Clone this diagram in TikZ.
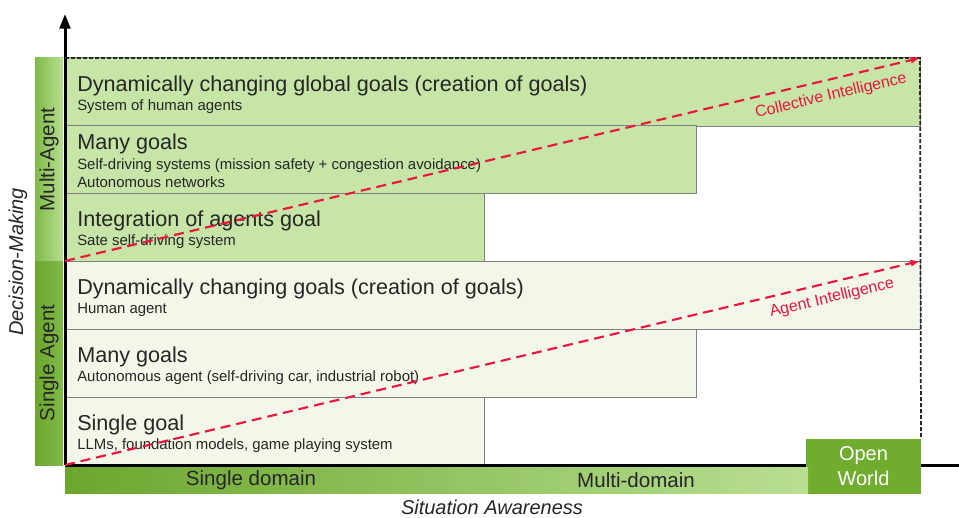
\documentclass[tikz,border=0pt]{standalone}
\usepackage{fontspec}
\setmainfont{Liberation Sans}
\usetikzlibrary{arrows.meta,positioning}

\definecolor{rowdark}{RGB}{198,229,167}
\definecolor{rowlight}{RGB}{242,247,234}
\definecolor{rowline}{RGB}{128,128,128}
\definecolor{bardark}{RGB}{108,166,46}
\definecolor{barmid}{RGB}{128,186,72}
\definecolor{barlight}{RGB}{184,223,146}
\definecolor{owgreen}{RGB}{112,172,46}
\definecolor{trendred}{RGB}{234,22,62}
\definecolor{textgray}{RGB}{38,38,38}

\tikzset{
  rowbox/.style={draw=rowline, line width=0.75pt, anchor=north west, inner sep=0pt, outer sep=0pt, minimum height=51pt},
  rowtitle/.style={anchor=base west, inner sep=0pt, text=textgray, font=\fontsize{16.2}{19}\selectfont},
  rowsub/.style={anchor=base west, inner sep=0pt, text=textgray, font=\fontsize{11.2}{13}\selectfont},
  sidebar/.style={rotate=90, inner sep=0pt, outer sep=0pt, minimum height=21pt, text=textgray, font=\fontsize{15.4}{18}\selectfont},
  axislabel/.style={inner sep=0pt, text=textgray, font=\fontsize{15}{18}\selectfont\itshape},
  trend/.style={trendred, line width=1.6pt, dash pattern=on 7.5pt off 4.5pt, -{Latex[length=7pt,width=5.5pt]}},
  trendlabel/.style={rotate=13.36, inner sep=0pt, text=trendred, font=\fontsize{12}{14}\selectfont},
}

\begin{document}
\begin{tikzpicture}[x=0.75pt,y=0.75pt,yscale=-1]
\useasboundingbox (0,0) rectangle (959,517);

%Rows: Multi-Agent
\node[rowbox, fill=rowdark, minimum width=641.25pt] (r1) at (65,58) {};
\node[rowbox, fill=rowdark, minimum width=473.25pt] (r2) at (65,125) {};
\node[rowbox, fill=rowdark, minimum width=314.25pt] (r3) at (65,193) {};
%Rows: Single Agent
\node[rowbox, fill=rowlight, minimum width=641.25pt] (r4) at (65,261) {};
\node[rowbox, fill=rowlight, minimum width=473.25pt] (r5) at (65,329) {};
\node[rowbox, fill=rowlight, minimum width=314.25pt] (r6) at (65,397) {};

% Text Node
\node[rowtitle] (t1) at ([xshift=9pt,yshift=25.1pt]r1.north west) {Dynamically changing global goals (creation of goals)};
\node[rowsub] (s1) at ([yshift=13.9pt]t1.base west) {System of human agents};
% Text Node
\node[rowtitle] (t2) at ([xshift=9pt,yshift=18pt]r2.north west) {Many goals};
\node[rowsub] (s2) at ([yshift=15pt]t2.base west) {Self-driving systems (mission safety + congestion avoidance)};
\node[rowsub] (s2b) at ([yshift=13.5pt]s2.base west) {Autonomous networks};
% Text Node
\node[rowtitle] (t3) at ([xshift=9pt,yshift=25.1pt]r3.north west) {Integration of agents goal};
\node[rowsub] (s3) at ([yshift=13.9pt]t3.base west) {Sate self-driving system};
% Text Node
\node[rowtitle] (t4) at ([xshift=9pt,yshift=25.1pt]r4.north west) {Dynamically changing goals (creation of goals)};
\node[rowsub] (s4) at ([yshift=13.9pt]t4.base west) {Human agent};
% Text Node
\node[rowtitle] (t5) at ([xshift=9pt,yshift=25.1pt]r5.north west) {Many goals};
\node[rowsub] (s5) at ([yshift=13.9pt]t5.base west) {Autonomous agent (self-driving car, industrial robot)};
% Text Node
\node[rowtitle] (t6) at ([xshift=9pt,yshift=25.1pt]r6.north west) {Single goal};
\node[rowsub] (s6) at ([yshift=13.9pt]t6.base west) {LLMs, foundation models, game playing system};

%Axes
\coordinate (O) at (65,465);
\coordinate (ytop) at (65,14);
\coordinate (xend) at (959,465);
\draw[line width=2.25pt, -{Triangle[length=11pt,width=8pt]}] (O) -- (ytop);
\draw[line width=2.25pt] (O) -- (xend);

%Open World box
\node[inner sep=0pt, outer sep=0pt, fill=owgreen, minimum width=86.25pt, minimum height=41.25pt, align=center, text=white, font=\fontsize{15}{18.75}\selectfont] (ow) at (863.5,466.5) {Open\\World};

%Dashed frame
\draw[black!85, line width=1.3pt, dash pattern=on 3pt off 1.5pt] (r1.north west) -- (r1.north east) -- (ow.north east);

%Trend lines
\draw[trend] (r3.south west) -- (r1.north east);
\draw[trend] (r6.south west) -- (r4.north east);
\node[trendlabel] (ci) at (831,96) {Collective Intelligence};
\node[trendlabel] (ai) at (832,298) {Agent Intelligence};

%Side bars
\node[sidebar, minimum width=152.25pt, left color=barmid, right color=barlight] (multi) at (49,159.5) {Multi-Agent};
\node[sidebar, minimum width=153pt, left color=bardark, right color=barmid] (single) at (49,363) {Single Agent};

%Bottom bar
\node[inner sep=0pt, outer sep=0pt, minimum width=557.25pt, minimum height=19.5pt, left color=bardark, right color=barlight] (domain) at (436.5,480) {};
\node[inner sep=0pt, text=textgray, font=\fontsize{15.4}{18}\selectfont] (single domain) at (251,480) {Single domain};
\node[inner sep=0pt, text=textgray, font=\fontsize{15.4}{18}\selectfont] (multi domain) at (636,480) {Multi-domain};

%Axis titles
\node[axislabel, rotate=90] (dm) at (18,262) {Decision-Making};
\node[axislabel] (sa) at (492,507) {Situation Awareness};

\end{tikzpicture}
\end{document}
